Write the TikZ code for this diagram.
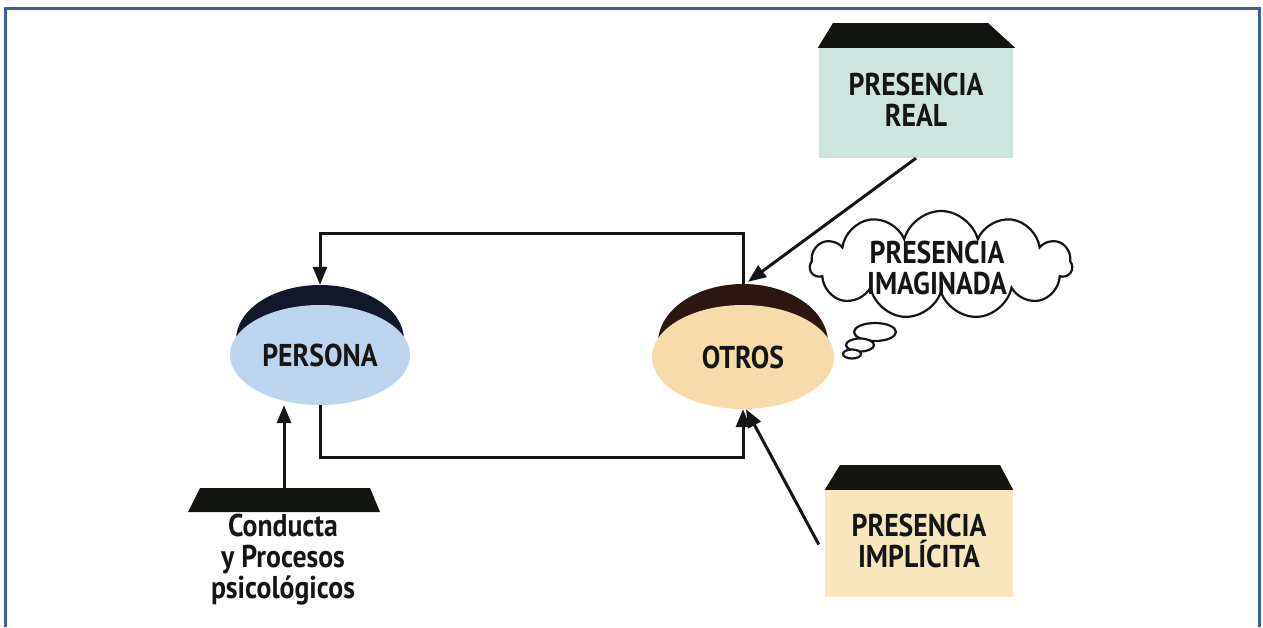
\documentclass[tikz,border=0pt]{standalone}
\usepackage{fontspec}
\setmainfont{PT Sans}[FakeStretch=0.88]
\usetikzlibrary{arrows.meta,shapes.geometric,shapes.symbols,calc}
\definecolor{ink}{HTML}{151515}
\definecolor{bordblue}{HTML}{3A5EA6}
\definecolor{personablue}{HTML}{BDD4EF}
\definecolor{otrosfill}{HTML}{F8DBAA}
\definecolor{realfill}{HTML}{CDE4DF}
\definecolor{implfill}{HTML}{F8E7BE}
\definecolor{capblue}{HTML}{10182A}
\definecolor{capbrown}{HTML}{2B1710}
\definecolor{capdark}{HTML}{121410}
\tikzset{
  lbl/.style={font=\fontsize{31.5}{31}\selectfont\bfseries, text=ink, align=center},
  boxnode/.style={rectangle, inner sep=0pt, lbl},
  ovalnode/.style={ellipse, inner sep=0pt, lbl},
  capnode/.style={ellipse, inner sep=0pt},
  conn/.style={line width=3pt, draw=ink},
  arr/.style={conn, -{Triangle[length=18pt,width=14pt]}},
}
\begin{document}
\begin{tikzpicture}[x=1pt,y=-1pt]
\useasboundingbox (0,0) rectangle (1263,627);
\fill[white] (0,0) rectangle (1263,627);
% frame
\draw[line width=3.5pt, bordblue] (5.5,627) -- (5.5,8.5) -- (1259.5,8.5) -- (1259.5,627);

% PERSONA
\node[capnode, minimum width=168pt, minimum height=110pt, fill=capblue] (personacap) at (320,340) {};
\node[ovalnode, minimum width=180pt, minimum height=100pt, fill=personablue] (persona) at (320,355) {PERSONA};

% OTROS
\node[capnode, minimum width=170pt, minimum height=118pt, fill=capbrown] (otroscap) at (743,343) {};
\node[ovalnode, minimum width=182pt, minimum height=104pt, fill=otrosfill] (otros) at (743,357) {OTROS};

% PRESENCIA REAL
\node[boxnode, fill=realfill, minimum width=194pt, minimum height=110pt] (real) at (916,103) {};
\node[lbl, inner sep=0pt] (realtxt) at (916,100) {PRESENCIA\\REAL};
\fill[capdark] ([xshift=-1pt]real.north west) -- (833,23) -- (988,23) -- ([xshift=2pt]real.north east) -- cycle;

% PRESENCIA IMPLICITA
\node[boxnode, fill=implfill, minimum width=188pt, minimum height=107pt] (impl) at (919,543.5) {};
\node[lbl, inner sep=0pt] (impltxt) at (919,541) {PRESENCIA\\IMPLÍCITA};
\fill[capdark] (impl.north west) -- (840,465) -- (1000,465) -- (impl.north east) -- cycle;

% Conducta
\coordinate (contop) at (284,488);
\fill[capdark] (188,512) -- (200,488) -- (370,488) -- (380,512) -- cycle;
\node[lbl, inner sep=0pt] (conducta) at (283,560) {Conducta\\y Procesos\\psicológicos};

% cloud
\node[cloud, cloud puffs=11, cloud ignores aspect, minimum width=262pt, minimum height=108pt,
      draw=ink, line width=2.2pt, fill=white, inner sep=0pt] (cloud) at (941,265) {};
\node[lbl, inner sep=0pt] (cloudtxt) at (937,268) {PRESENCIA\\IMAGINADA};
\draw[ink, line width=2.2pt, fill=white] (875,332) ellipse [x radius=21pt, y radius=9pt];
\draw[ink, line width=2.2pt, fill=white] (860,345) ellipse [x radius=14pt, y radius=6.5pt];
\draw[ink, line width=2.2pt, fill=white] (852,354) ellipse [x radius=9pt, y radius=4.5pt];

% connectors
\coordinate (toprow) at (0,233);
\coordinate (botrow) at (0,457);
\draw[arr] (otroscap.north) -- (otroscap.north |- toprow) -| (personacap.north);
\draw[arr] (persona.south) -- (persona.south |- botrow) -| (otros.south);
\draw[arr] (contop) -- (contop |- persona.south);
\draw[arr] (real.south) -- ([xshift=5pt,yshift=2pt]otroscap.north);
\draw[arr] ([xshift=-6pt,yshift=-1pt]impl.west) -- ([xshift=3pt]otros.south);
\end{tikzpicture}
\end{document}
